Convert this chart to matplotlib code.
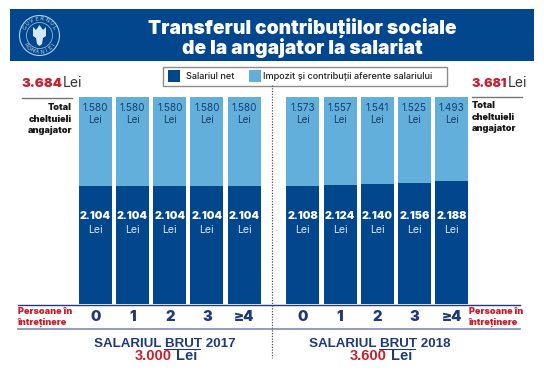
import matplotlib
matplotlib.use("Agg")
import matplotlib.pyplot as plt
from matplotlib.patches import Rectangle, Circle, Polygon
import numpy as np

W, H = 544, 374

persoane = ["0", "1", "2", "3", "≥4"]
net_2017 = [2104, 2104, 2104, 2104, 2104]
imp_2017 = [1580, 1580, 1580, 1580, 1580]
net_2018 = [2108, 2124, 2140, 2156, 2188]
imp_2018 = [1573, 1557, 1541, 1525, 1493]

DARK = "#02478e"
LIGHT = "#62afdb"
RED = "#c8202f"
NAVY = "#1f3a77"
FONT = "Inter"
FOOT = "Liberation Sans"


def lei(v):
    return f"{v // 1000}.{v % 1000:03d}"


fig = plt.figure(figsize=(W / 100, H / 100), dpi=100, facecolor="white")

# strat pentru tot ce nu e bara, in pixeli
bg = fig.add_axes([0, 0, 1, 1])
bg.set_xlim(0, W)
bg.set_ylim(H, 0)
bg.axis("off")

# banda de titlu
bg.add_patch(Rectangle((10, 9), 524, 52, fc=DARK, ec="none"))
bg.text(302, 27.5, "Transferul contribuțiilor sociale", color="white", fontsize=13.8,
        fontweight="black", family=FONT, ha="center", va="center")
bg.text(302, 47.5, "de la angajator la salariat", color="white", fontsize=13.8,
        fontweight="black", family=FONT, ha="center", va="center")

# sigla
cx, cy = 39.5, 35.5
bg.add_patch(Circle((cx, cy), 20, fc="none", ec="#a9cfea", lw=0.8))
bg.add_patch(Circle((cx, cy), 13, fc="none", ec="#a9cfea", lw=0.5))
for txt, start, end in [("GUVERNUL", 150, 30), ("ROMÂNIEI", 212, 328)]:
    for ch, a in zip(txt, np.linspace(start, end, len(txt))):
        r = np.deg2rad(a)
        rot = a - 90 if start > end else a + 90
        bg.text(cx + 16.5 * np.cos(r), cy - 16.5 * np.sin(r), ch, color="#c4def1",
                fontsize=3.8, ha="center", va="center", rotation=rot)
bg.add_patch(Polygon([(33, 27), (36, 30), (39.5, 25), (43, 30), (46, 27), (46, 36), (43, 38),
                      (42, 44), (39.5, 46), (37, 44), (36, 38), (33, 36)],
                     fc="#d5e6f4", ec="none"))

# legenda
bg.add_patch(Rectangle((163, 67), 284, 18.5, fc="white", ec="#8c8c8c", lw=1))
bg.add_patch(Rectangle((168, 70), 12, 12, fc=DARK, ec="none"))
bg.add_patch(Rectangle((249, 70), 12, 12, fc=LIGHT, ec="none"))
bg.text(186, 76, "Salariul net", fontsize=6.6, color="#222222", family=FONT, fontweight="medium", va="center")
bg.text(263, 76, "Impozit și contribuții aferente salariului", fontsize=6.6, color="#222222",
        family=FONT, fontweight="medium", va="center")

# totaluri
bg.text(22, 87, lei(net_2017[0] + imp_2017[0]), color=RED, fontsize=9.5, fontweight="black",
        family=FONT, va="baseline")
bg.text(63, 87, "Lei", color="#333333", fontsize=10, family=FONT, va="baseline")
bg.text(471, 87, lei(net_2018[0] + imp_2018[0]), color=RED, fontsize=9, fontweight="black",
        family=FONT, va="baseline")
bg.text(508, 87, "Lei", color="#333333", fontsize=10, family=FONT, va="baseline")

bg.plot([22, 72], [97.5, 97.5], color="#777777", lw=1)
bg.plot([472, 522], [96.5, 96.5], color="#777777", lw=1)

bg.text(72, 119, "Total\ncheltuieli\nangajator", ha="right", va="center", fontsize=6.6,
        fontweight="black", family=FONT, color="#1a1a1a", linespacing=1.3)
bg.text(472, 117, "Total\ncheltuieli\nangajator", ha="left", va="center", fontsize=6.6,
        fontweight="black", family=FONT, color="#1a1a1a", linespacing=1.3)

# linii de jos + separator
bg.plot([18, 520], [304.5, 304.5], color=NAVY, lw=1)
bg.plot([18, 520], [328.5, 328.5], color="#8a93bf", lw=1.3)
bg.plot([272, 272], [85, 358], color="#555555", lw=0.9, ls=(0, (1, 1.2)))

bg.text(18, 317, "Persoane în\nîntreținere", color=RED, fontsize=6.6, fontweight="black", family=FONT,
        va="center", linespacing=1.35)
bg.text(469, 317, "Persoane în\nîntreținere", color=RED, fontsize=6.6, fontweight="black", family=FONT,
        va="center", linespacing=1.35)

# subsoluri
for xc, an, brut in [(165, "2017", "3.000"), (380, "2018", "3.600")]:
    bg.text(xc, 347, f"SALARIUL BRUT {an}", color=NAVY, fontsize=9.6, fontweight="bold",
            family=FOOT, ha="center", va="baseline")
    bg.text(xc + 7, 360, brut, color=RED, fontsize=10.5, fontweight="bold", family=FOOT,
            ha="right", va="baseline")
    bg.text(xc + 11, 360, "Lei", color=NAVY, fontsize=10.5, fontweight="bold", family=FOOT,
            ha="left", va="baseline")
bg.plot([164, 200], [348.5, 348.5], color=NAVY, lw=0.8)
bg.plot([379, 415], [348.5, 348.5], color=NAVY, lw=0.8)

# barele: o singura axa, in lei, cu pasul de o bara
ax = fig.add_axes([79 / W, (H - 304) / H, (468 - 79) / W, 207 / H])
ax.patch.set_alpha(0)
ax.axis("off")
pas = 37.25
lat = 33 / pas
x_2017 = np.arange(5)
x_2018 = np.arange(5) + 208 / pas
ax.set_xlim(-lat / 2, x_2018[-1] + lat / 2)
ax.set_ylim(0, 3684)

for xs, net, imp in [(x_2017, net_2017, imp_2017), (x_2018, net_2018, imp_2018)]:
    ax.bar(xs, net, width=lat, color=DARK)
    ax.bar(xs, imp, width=lat, bottom=net, color=LIGHT)
    for x, n, i, p in zip(xs, net, imp, persoane):
        top = n + i
        ax.annotate(f"{lei(i)}\nLei", (x, top), xytext=(0, -4), textcoords="offset points", ha="center",
                    va="top", fontsize=7.2, color="#17406c", family=FONT, linespacing=1.25)
        ax.annotate(lei(n), (x, 1566), ha="center", va="center", fontsize=7.8, color="white",
                    fontweight="black", family=FONT)
        ax.annotate("Lei", (x, 1317), ha="center", va="center", fontsize=7.6, color="#d9e6f3", family=FONT)
        ax.annotate(p, (x, 0), xytext=(0, -9.5), textcoords="offset points", ha="center", va="center",
                    fontsize=10.5, color=NAVY, fontweight="black", family=FONT, annotation_clip=False)

fig.savefig("out.png", dpi=100)
